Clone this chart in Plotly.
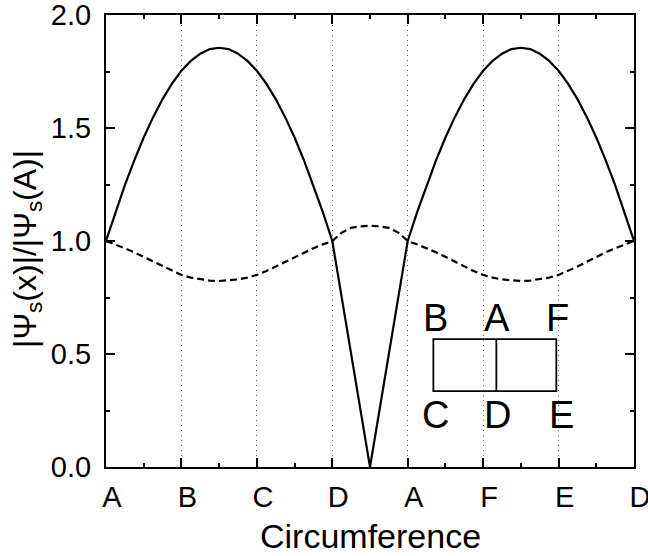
import plotly.graph_objects as go

# ---- data ----
x_pos = [0, 0.125, 0.25, 0.375, 0.5, 0.625, 0.75, 0.875, 1.0, 1.125, 1.25, 1.375, 1.5,
         1.625, 1.75, 1.875, 2.0, 2.125, 2.25, 2.375, 2.5, 2.625, 2.75, 2.875, 3.0,
         3.125, 3.25, 3.375, 3.5, 3.625, 3.75, 3.875, 4.0,
         4.125, 4.25, 4.375, 4.5, 4.625, 4.75, 4.875, 5.0, 5.125, 5.25, 5.375, 5.5,
         5.625, 5.75, 5.875, 6.0, 6.125, 6.25, 6.375, 6.5, 6.625, 6.75, 6.875, 7.0]

solid_vals = [1.000, 1.128, 1.247, 1.357, 1.458, 1.548, 1.628, 1.696, 1.753, 1.797, 1.829, 1.849, 1.855,
              1.849, 1.829, 1.797, 1.753, 1.696, 1.628, 1.548, 1.458, 1.357, 1.247, 1.128, 1.000,
              0.750, 0.500, 0.250, 0.000, 0.250, 0.500, 0.750, 1.000,
              1.128, 1.247, 1.357, 1.458, 1.548, 1.628, 1.696, 1.753, 1.797, 1.829, 1.849, 1.855,
              1.849, 1.829, 1.797, 1.753, 1.696, 1.628, 1.548, 1.458, 1.357, 1.247, 1.128, 1.000]

dashed_vals = [1.000, 0.985, 0.968, 0.950, 0.930, 0.908, 0.887, 0.867, 0.850, 0.838, 0.830, 0.825, 0.823,
               0.825, 0.830, 0.838, 0.850, 0.867, 0.887, 0.908, 0.930, 0.950, 0.968, 0.985, 1.000,
               1.037, 1.058, 1.065, 1.067, 1.065, 1.058, 1.037, 1.000,
               0.985, 0.968, 0.950, 0.930, 0.908, 0.887, 0.867, 0.850, 0.838, 0.830, 0.825, 0.823,
               0.825, 0.830, 0.838, 0.850, 0.867, 0.887, 0.908, 0.930, 0.950, 0.968, 0.985, 1.000]

x_tickvals = [0, 1, 2, 3, 4, 5, 6, 7]
x_ticktext = ["A", "B", "C", "D", "A", "F", "E", "D"]
y_tickvals = [0.0, 0.5, 1.0, 1.5, 2.0]
y_ticktext = ["0.0", "0.5", "1.0", "1.5", "2.0"]

x_title = "Circumference"
y_title = "|\u03a8<sub>s</sub>(x)|/|\u03a8<sub>s</sub>(A)|"

inset_top_labels = ["B", "A", "F"]
inset_bottom_labels = ["C", "D", "E"]

FONT = "Liberation Sans, Arial, Helvetica, sans-serif"

fig = go.Figure()
fig.add_trace(go.Scatter(x=x_pos, y=solid_vals, mode="lines",
                         line=dict(color="black", width=2.2), showlegend=False))
fig.add_trace(go.Scatter(x=x_pos, y=dashed_vals, mode="lines",
                         line=dict(color="black", width=2.2, dash="7px,4px"), showlegend=False))

# inset rectangle (split in two cells)
fig.add_shape(type="rect", xref="x", yref="y", x0=4.34, x1=5.97, y0=0.336, y1=0.566,
              line=dict(color="black", width=1.8))
fig.add_shape(type="line", xref="x", yref="y", x0=5.175, x1=5.175, y0=0.336, y1=0.566,
              line=dict(color="black", width=1.8))

top_x = [4.37, 5.18, 5.985]
bot_x = [4.37, 5.19, 6.04]
for lab, xx in zip(inset_top_labels, top_x):
    fig.add_annotation(x=xx, y=0.660, xref="x", yref="y", text=lab, showarrow=False,
                       xanchor="center", yanchor="middle",
                       font=dict(family=FONT, size=38, color="black"))
for lab, xx in zip(inset_bottom_labels, bot_x):
    fig.add_annotation(x=xx, y=0.232, xref="x", yref="y", text=lab, showarrow=False,
                       xanchor="center", yanchor="middle",
                       font=dict(family=FONT, size=38, color="black"))

# axis titles
fig.add_annotation(x=0.5, y=-0.153, xref="paper", yref="paper", text=x_title,
                   showarrow=False, xanchor="center", yanchor="middle",
                   font=dict(family=FONT, size=34, color="black"))
fig.add_annotation(x=-0.150, y=0.482, xref="paper", yref="paper", text=y_title,
                   showarrow=False, xanchor="center", yanchor="middle", textangle=-90,
                   font=dict(family=FONT, size=32, color="black"))

fig.update_layout(
    width=648, height=556,
    margin=dict(l=106, r=14, t=15, b=89),
    paper_bgcolor="white", plot_bgcolor="white",
    font=dict(family=FONT, color="black"),
    xaxis=dict(
        range=[0, 7], tickmode="array", tickvals=x_tickvals, ticktext=x_ticktext,
        ticks="inside", ticklen=9, tickwidth=1.5, tickcolor="black",
        showline=True, linecolor="black", linewidth=2, mirror="ticks",
        showgrid=True, gridcolor="#666666", gridwidth=1, griddash="1px,4px",
        zeroline=False,
        minor=dict(tickvals=[0.5, 1.5, 2.5, 3.5, 4.5, 5.5, 6.5], ticks="inside",
                   ticklen=4, tickwidth=1.5, tickcolor="black", showgrid=False),
        tickfont=dict(family=FONT, size=29, color="black"),
        ticklabelshift=6, ticklabelstandoff=3, ticklabeloverflow="allow",
        automargin=False,
    ),
    yaxis=dict(
        range=[0, 2], tickmode="array", tickvals=y_tickvals, ticktext=y_ticktext,
        ticks="inside", ticklen=9, tickwidth=1.5, tickcolor="black",
        showline=True, linecolor="black", linewidth=2, mirror="ticks",
        showgrid=False, zeroline=False,
        minor=dict(tickvals=[0.25, 0.75, 1.25, 1.75], ticks="inside",
                   ticklen=4, tickwidth=1.5, tickcolor="black", showgrid=False),
        tickfont=dict(family=FONT, size=29, color="black"),
        ticklabelstandoff=7, ticklabeloverflow="allow",
        automargin=False,
    ),
)

fig.write_html(
    "out.html",
    config={"displayModeBar": False},
    post_script=[
        "document.body.style.margin='0px';"
        "document.body.style.overflow='hidden';"
        "document.documentElement.style.overflow='hidden';"
    ],
)
